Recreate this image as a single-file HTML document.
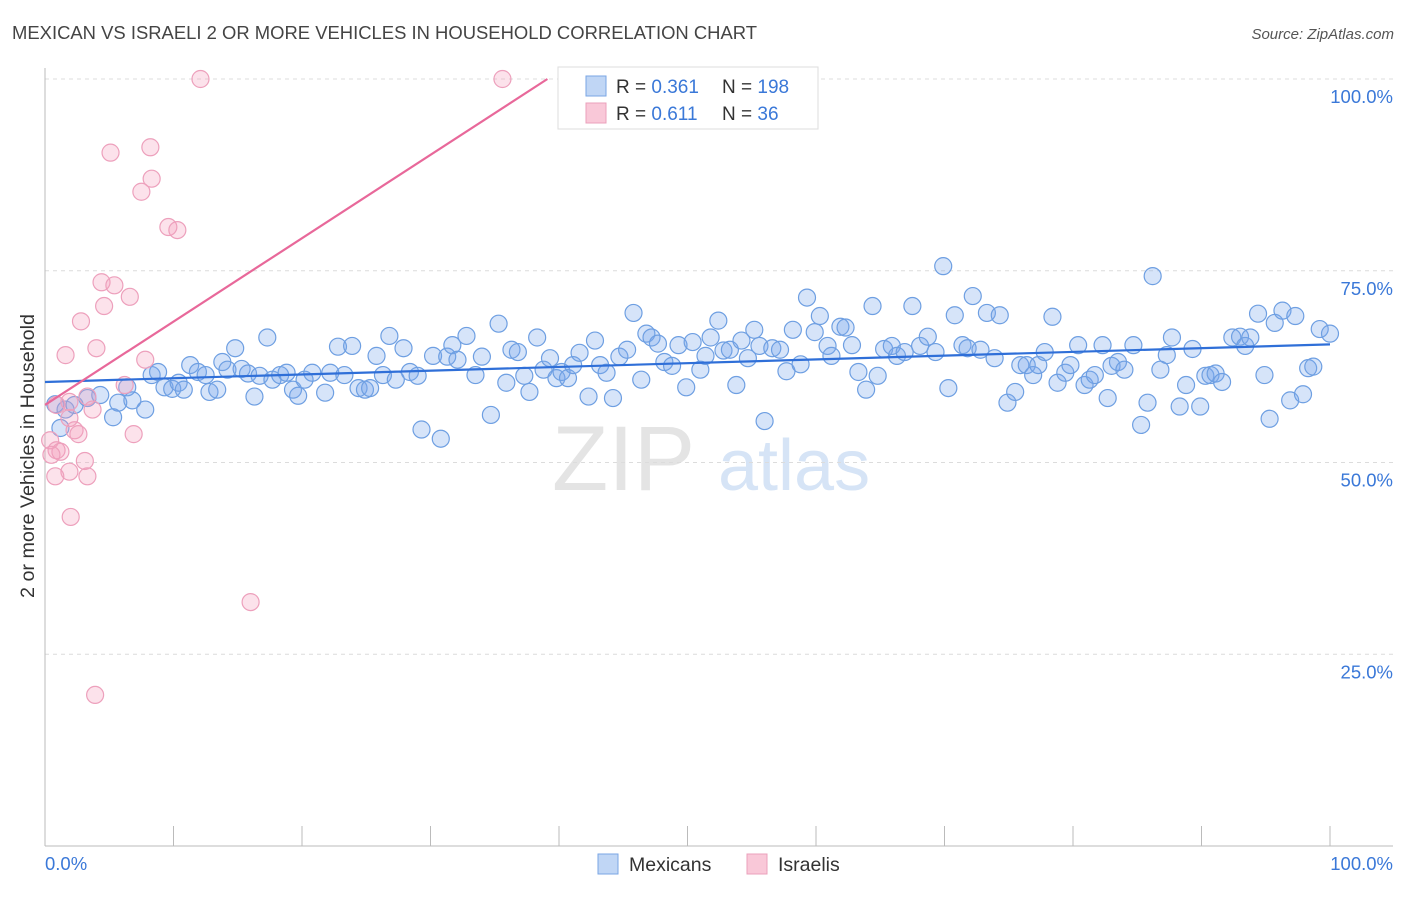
<!DOCTYPE html>
<html><head><meta charset="utf-8">
<style>
html,body{margin:0;padding:0;background:#fff;}
body{width:1406px;height:892px;overflow:hidden;font-family:"Liberation Sans",sans-serif;}
svg text{font-family:"Liberation Sans",sans-serif;}
</style></head>
<body>
<svg id="chart" width="1406" height="892" viewBox="0 0 1406 892" xmlns="http://www.w3.org/2000/svg">
<text x="12" y="39" font-size="18" fill="#444" textLength="745" lengthAdjust="spacingAndGlyphs">MEXICAN VS ISRAELI 2 OR MORE VEHICLES IN HOUSEHOLD CORRELATION CHART</text>
<text x="1394" y="39" font-size="15" fill="#555" font-style="italic" text-anchor="end">Source: ZipAtlas.com</text>
<g>
<text x="552" y="490" font-size="92" fill="#e4e4e4" font-family="Liberation Serif, serif">ZIP</text>
<text x="718" y="490" font-size="72" fill="#d6e4f6">atlas</text>
</g>
<g id="grid"></g>
<g id="axes"></g>
<text transform="translate(34,456) rotate(-90)" font-size="19" fill="#333" text-anchor="middle" textLength="284" lengthAdjust="spacingAndGlyphs">2 or more Vehicles in Household</text>
<g id="marks"></g>
<g id="trends"></g>
<g>
<rect x="558" y="67" width="260" height="62" fill="#fff" stroke="#ddd"/>
<rect x="586" y="76" width="20" height="20" fill="#c0d6f5" stroke="#7aa6e4"/>
<rect x="586" y="103" width="20" height="20" fill="#f9c8d8" stroke="#eba0bb"/>
<text x="616" y="93" font-size="19" fill="#333">R = <tspan fill="#3a78d8">0.361</tspan></text>
<text x="722" y="93" font-size="19" fill="#333">N = <tspan fill="#3a78d8">198</tspan></text>
<text x="616" y="120" font-size="19" fill="#333">R = <tspan fill="#3a78d8"> 0.611</tspan></text>
<text x="722" y="120" font-size="19" fill="#333">N = <tspan fill="#3a78d8">  36</tspan></text>
</g>
<g>
<rect x="598" y="854" width="20" height="20" fill="#c0d6f5" stroke="#7aa6e4"/>
<text x="629" y="871" font-size="19.5" fill="#333">Mexicans</text>
<rect x="747" y="854" width="20" height="20" fill="#f9c8d8" stroke="#eba0bb"/>
<text x="778" y="871" font-size="19.5" fill="#333">Israelis</text>
</g>
</svg>
<script>
const yTicks = [25, 50, 75, 100];
const yTickLabels = ["25.0%", "50.0%", "75.0%", "100.0%"];
const xTickLabels = ["0.0%", "100.0%"];
const mexX = [0.8,1.6,2.3,1.2,3.3,4.3,5.3,5.7,6.4,6.8,7.8,8.3,8.8,9.3,9.9,10.4,10.8,11.3,11.9,12.5,12.8,13.4,13.8,14.2,14.8,15.3,15.8,16.3,16.7,17.3,17.7,18.3,18.8,19.3,19.7,20.2,20.8,21.8,22.2,22.8,23.3,23.9,24.4,24.9,25.3,25.8,26.3,26.8,27.3,27.9,28.4,29.0,29.3,30.2,30.8,31.3,31.7,32.1,32.8,33.5,34.0,34.7,35.3,35.9,36.3,36.8,37.3,37.7,38.3,38.8,39.3,39.8,40.2,40.7,41.1,41.6,42.3,42.8,43.2,43.7,44.2,44.7,45.3,45.8,46.4,46.8,47.2,47.7,48.2,48.8,49.3,49.9,50.4,51.0,51.4,51.8,52.4,52.8,53.3,53.8,54.2,54.7,55.2,55.6,56.0,56.6,57.2,57.7,58.2,58.8,59.3,59.9,60.3,60.9,61.2,61.9,62.3,62.8,63.3,63.9,64.4,64.8,65.3,65.9,66.3,66.9,67.5,68.1,68.7,69.3,69.9,70.3,70.8,71.4,71.8,72.2,72.8,73.3,73.9,74.3,74.9,75.5,75.9,76.4,76.9,77.3,77.8,78.4,78.8,79.4,79.8,80.4,80.9,81.3,81.7,82.3,82.7,83.0,83.5,84.0,84.7,85.3,85.8,86.2,86.8,87.3,87.7,88.3,88.8,89.3,89.9,90.3,90.7,91.1,91.6,92.4,93.0,93.4,93.8,94.4,94.9,95.3,95.7,96.3,96.9,97.3,97.9,98.3,98.7,99.2,100.0];
const mexY = [57.6,56.9,57.5,54.5,58.4,58.8,55.9,57.8,59.8,58.1,56.9,61.4,61.8,59.8,59.6,60.4,59.5,62.7,61.8,61.4,59.2,59.5,63.1,62.1,64.9,62.2,61.6,58.6,61.3,66.3,60.8,61.4,61.7,59.5,58.7,60.8,61.7,59.1,61.7,65.1,61.4,65.2,59.7,59.5,59.7,63.9,61.4,66.5,60.8,64.9,61.8,61.3,54.3,63.9,53.1,63.8,65.3,63.4,66.5,61.4,63.8,56.2,68.1,60.4,64.7,64.4,61.3,59.2,66.3,62.1,63.6,61.0,61.8,61.0,62.7,64.3,58.6,65.9,62.7,61.7,58.4,63.8,64.7,69.5,60.8,66.8,66.3,65.5,63.1,62.6,65.3,59.8,65.7,62.1,63.9,66.3,68.5,64.6,64.7,60.1,65.9,63.6,67.3,65.2,55.4,64.9,64.7,61.9,67.3,62.8,71.5,67.0,69.1,65.2,63.9,67.7,67.6,65.3,61.8,59.5,70.4,61.3,64.8,65.2,63.9,64.4,70.4,65.2,66.4,64.4,75.6,59.7,69.2,65.3,64.9,71.7,64.7,69.5,63.6,69.2,57.8,59.2,62.7,62.7,61.4,62.7,64.4,69.0,60.4,61.7,62.7,65.3,60.1,60.8,61.4,65.3,58.4,62.6,63.1,62.1,65.3,54.9,57.8,74.3,62.1,64.0,66.3,57.3,60.1,64.8,57.3,61.3,61.4,61.6,60.5,66.3,66.4,65.2,66.3,69.4,61.4,55.7,68.2,69.8,58.1,69.1,58.9,62.3,62.5,67.4,66.8];
const isrX = [12.1,35.6,45.5,5.1,8.2,7.5,8.3,9.6,10.3,4.4,5.4,4.6,6.6,2.8,1.6,4.0,7.8,6.2,3.3,1.9,0.9,3.7,1.9,2.3,2.6,6.9,0.4,0.9,1.2,0.5,3.1,1.9,0.8,3.3,2.0,16.0,3.9];
const isrY = [100,100,100,90.4,91.1,85.3,87.0,80.7,80.3,73.5,73.1,70.4,71.6,68.4,64.0,64.9,63.4,60.1,58.6,57.9,57.5,56.9,55.8,54.2,53.7,53.7,52.9,51.6,51.4,51.0,50.2,48.8,48.2,48.2,42.9,31.8,19.7];
const mexTrend = [60.5, 65.4];
const isrTrend = [57.5, 1.087];

const NS = "http://www.w3.org/2000/svg";
const X0 = 45, X1 = 1330, Y0 = 846, Y100 = 79;
function xs(v){ return X0 + (X1 - X0) * v / 100; }
function ys(v){ return Y0 - (Y0 - Y100) * v / 100; }
function mk(tag, attrs, parent){ const e = document.createElementNS(NS, tag); for (const k in attrs) e.setAttribute(k, attrs[k]); parent.appendChild(e); return e; }

const grid = document.getElementById('grid');
yTicks.forEach((t, i) => {
  const l = mk('line', {x1: X0, x2: 1393, y1: ys(t), y2: ys(t), stroke: '#dcdcdc', 'stroke-dasharray': '4,4'}, grid);
  
  
  const tx = mk('text', {x: 1393, y: ys(t) + 24, 'font-size': 18.5, fill: '#3a78d8', 'text-anchor': 'end'}, grid);
  tx.textContent = yTickLabels[i];
  
  
});
const axes = document.getElementById('axes');
mk('line', {x1: X0, x2: X0, y1: 68, y2: Y0, stroke: '#bbb'}, axes);
mk('line', {x1: X0, x2: 1393, y1: Y0, y2: Y0, stroke: '#bbb'}, axes);
for (let i = 1; i <= 10; i++) {
  const t = mk('line', {x1: xs(i * 10), x2: xs(i * 10), y1: 826, y2: Y0, stroke: '#bbb'}, axes);
  
  
}
const xl0 = mk('text', {x: 45, y: 870, 'font-size': 18.5, fill: '#3a78d8'}, axes);
xl0.textContent = xTickLabels[0];


const xl1 = mk('text', {x: 1393, y: 870, 'font-size': 18.5, fill: '#3a78d8', 'text-anchor': 'end'}, axes);
xl1.textContent = xTickLabels[1];



const marks = document.getElementById('marks');
mexX.forEach((x, i) => {
  const c = mk('circle', {cx: xs(x), cy: ys(mexY[i]), r: 8.5, fill: 'rgba(120,165,235,0.3)', stroke: '#6e9fe2', 'stroke-width': 1.2}, marks);
  
  
});
isrX.forEach((x, i) => {
  const c = mk('circle', {cx: xs(x), cy: ys(isrY[i]), r: 8.5, fill: 'rgba(245,160,190,0.3)', stroke: '#eda0bc', 'stroke-width': 1.2}, marks);
  
  
});

const trends = document.getElementById('trends');
const tm = mk('line', {x1: xs(0), y1: ys(mexTrend[0]), x2: xs(100), y2: ys(mexTrend[1]), stroke: '#2f6fd8', 'stroke-width': 2.2}, trends);


const xEnd = (100 - isrTrend[0]) / isrTrend[1];
const ti = mk('line', {x1: xs(0), y1: ys(isrTrend[0]), x2: xs(xEnd), y2: ys(100), stroke: '#e8689a', 'stroke-width': 2.2}, trends);


</script>
</body></html>
